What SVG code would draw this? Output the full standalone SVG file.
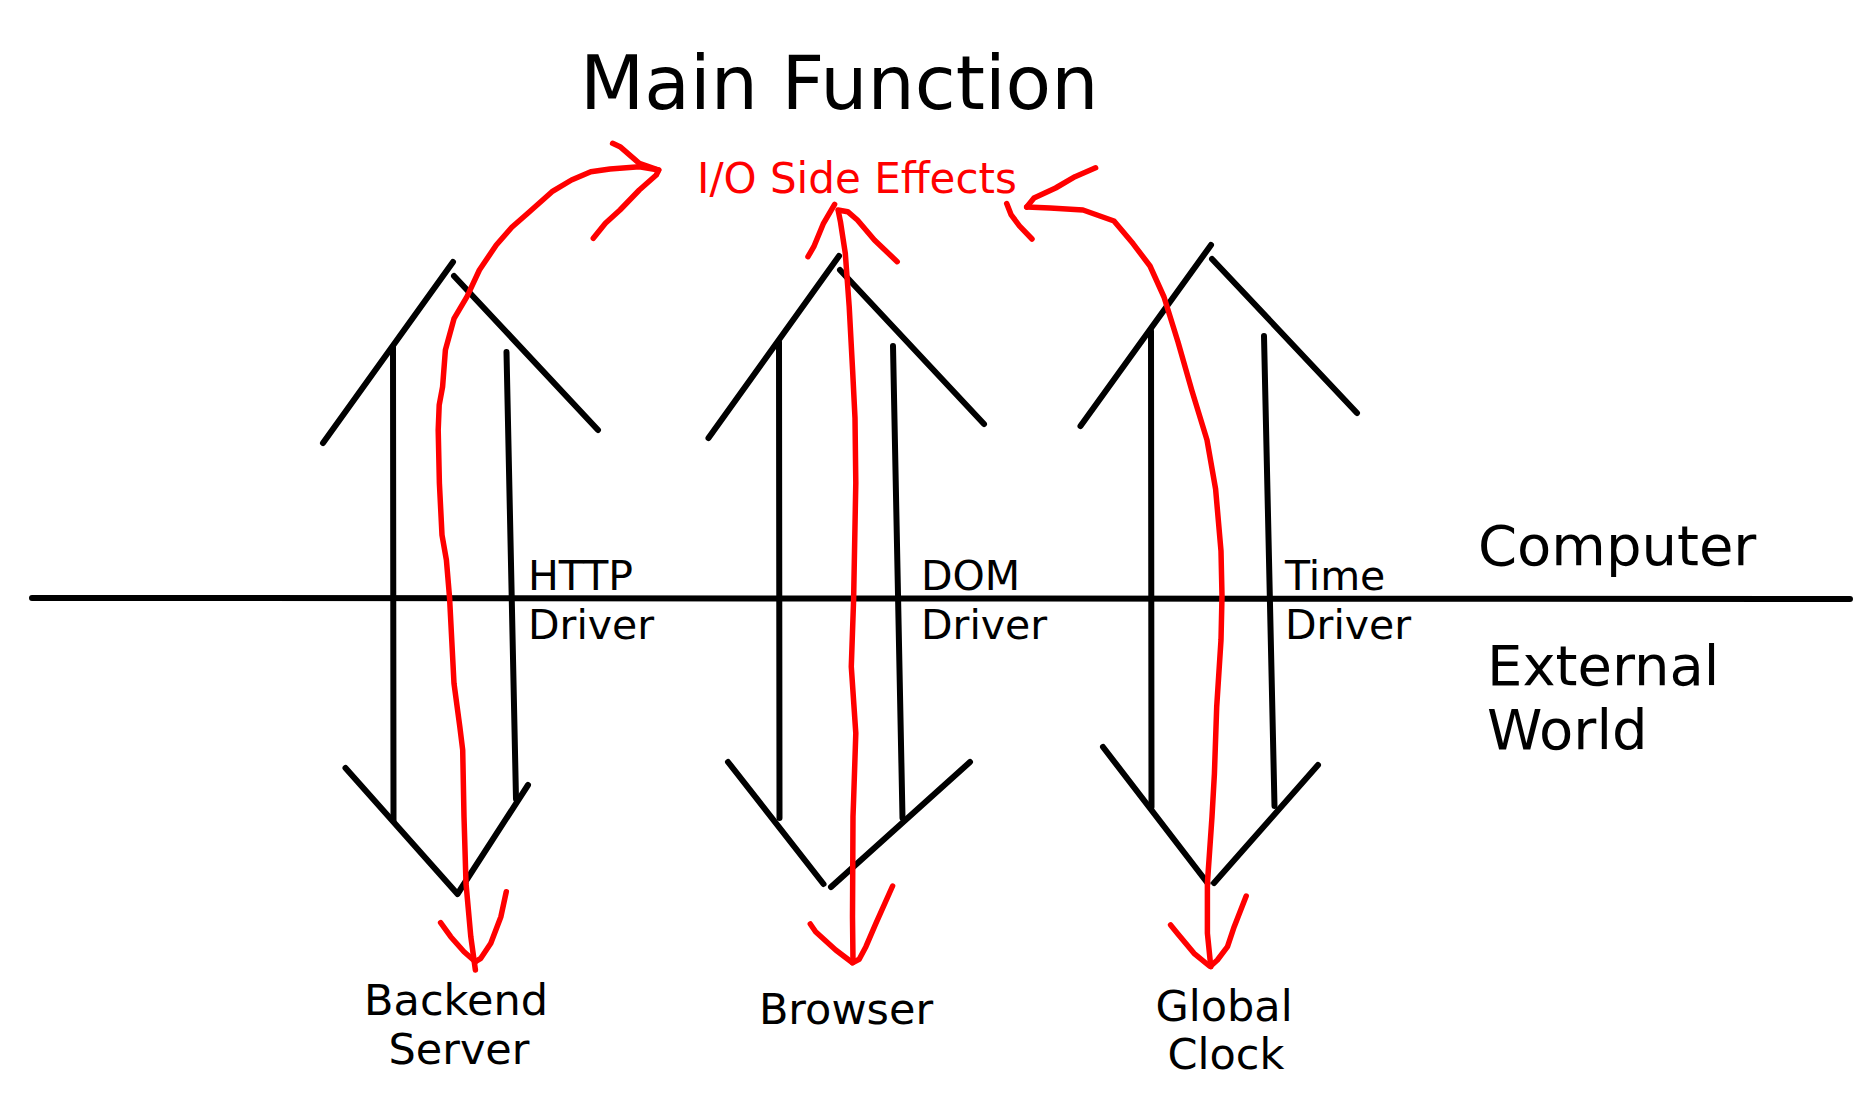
<svg xmlns="http://www.w3.org/2000/svg" width="1870" height="1111" viewBox="0 0 1870 1111">
<style>
  .bk { fill: none; stroke: #000; stroke-width: 6; stroke-linecap: round; stroke-linejoin: round; }
  .rd { fill: none; stroke: #ff0000; stroke-width: 5.5; stroke-linecap: round; stroke-linejoin: round; }
  text { font-family: "DejaVu Sans", "Liberation Sans", sans-serif; fill: #000; }
  .lbl { font-size: 41px; }
  .ext { font-size: 43px; }
  .side { font-size: 56px; }
</style>
<rect width="1870" height="1111" fill="#fff"/>

<g id="main-function">
  <text x="580" y="109" font-size="74.5">Main Function</text>
</g>

<g id="io-side-effects">
  <text x="697" y="193" font-size="42" style="fill:#ff0000">I/O Side Effects</text>
</g>

<g id="boundary">
  <line class="bk" x1="32" y1="598" x2="1850" y2="599"/>
  <text class="side" x="1478" y="565">Computer</text>
  <text class="side" x="1487" y="685">External</text>
  <text class="side" x="1487" y="749">World</text>
</g>

<g id="http-driver">
  <polyline class="bk" points="323,443 453,262"/>
  <polyline class="bk" points="454,276 598,430"/>
  <polyline class="bk" points="393,347 393.5,821"/>
  <polyline class="bk" points="506.5,352 516,799"/>
  <polyline class="bk" points="345.5,768 457.5,894 528,785"/>
  <text class="lbl" x="528" y="590">HTTP</text>
  <text class="lbl" x="528" y="639">Driver</text>
</g>

<g id="dom-driver">
  <polyline class="bk" points="708.5,438 839,256"/>
  <polyline class="bk" points="840,270 984,424"/>
  <polyline class="bk" points="779,342 779.5,818"/>
  <polyline class="bk" points="893,346 902.5,818"/>
  <polyline class="bk" points="728,762 823.5,884"/>
  <polyline class="bk" points="970,762 831,887"/>
  <text class="lbl" x="921" y="590">DOM</text>
  <text class="lbl" x="921" y="639">Driver</text>
</g>

<g id="time-driver">
  <polyline class="bk" points="1080.5,426 1211,245"/>
  <polyline class="bk" points="1212,259 1357,413"/>
  <polyline class="bk" points="1151,331 1151.5,807"/>
  <polyline class="bk" points="1264,336 1274.5,806"/>
  <polyline class="bk" points="1103,747 1207.5,883"/>
  <polyline class="bk" points="1318,765 1214,883"/>
  <text class="lbl" x="1285" y="590">Time</text>
  <text class="lbl" x="1285" y="639">Driver</text>
</g>

<g id="backend-server">
  <text class="ext" x="456" y="1015" text-anchor="middle">Backend</text>
  <text class="ext" x="459" y="1064" text-anchor="middle">Server</text>
</g>

<g id="browser">
  <text class="ext" x="846" y="1024" font-size="42.5" text-anchor="middle">Browser</text>
</g>

<g id="global-clock">
  <text class="ext" x="1224" y="1021" text-anchor="middle">Global</text>
  <text class="ext" x="1226" y="1069" text-anchor="middle">Clock</text>
</g>

<g id="connectors">
  <!-- HTTP side effect loop -->
  <polyline class="rd" points="475.4,970 470.8,936.7 466,883.3 464,816.7 462.7,750 459.8,726.7 454,683.3 449.6,598.3 446.4,560 442,535 439.4,483.3 438.2,430 439.2,405 442.6,386.7 445.4,350 454,318.7 467,296.7 479.4,270 496.3,245 511.8,227.3 527.8,213.3 552,191.7 571.5,180 590.8,171.7 610,169 639.3,166.7 658.7,170"/>
  <polyline class="rd" points="612.6,143.3 620,146.7 639.3,163.3 658.7,170 656.3,175 639.3,190 620,210 605.4,223.3 593.3,238.3"/>
  <polyline class="rd" points="440.6,922.7 450.7,936.7 464,951.7 475.4,961.7"/>
  <polyline class="rd" points="506.3,891.7 500.9,916.7 490.8,943.3 480.8,958.3 475.4,961.7"/>

  <!-- DOM side effect loop -->
  <polyline class="rd" points="853,962 852.5,916.7 853,816.7 853.6,800 855.8,733.3 851.3,666.7 853.6,600 855.8,483 855,418 852.6,370 849.2,306.7 845.3,253.3 840.5,222 838.5,212"/>
  <polyline class="rd" points="808,256.7 813.8,246.7 823.5,223.3 834.6,204.3"/>
  <polyline class="rd" points="838,210 847.7,211.7 857.4,220 874.4,240 897.2,261.7"/>
  <polyline class="rd" points="810.3,924 815.6,931.7 835.7,950 852.5,962.7"/>
  <polyline class="rd" points="892.6,886 875.9,923.3 865.9,946.7 859.2,959.3 852.5,962.7"/>

  <!-- Time side effect loop -->
  <polyline class="rd" points="1210.8,966.7 1207.4,933.3 1207.4,883.3 1212,816.7 1214.4,774 1216.7,707 1221,640 1222,596 1221,551 1215.6,489 1207,440 1192,391 1178,342 1164,297 1150,266 1133,243.6 1114,221 1083,210 1050,208 1026.7,207"/>
  <polyline class="rd" points="1095.6,167.8 1075,176.7 1055.6,188 1034,198 1026.7,207"/>
  <polyline class="rd" points="1006.7,203.5 1011,214.6 1019.4,225.8 1032,239"/>
  <polyline class="rd" points="1170.6,925 1177.3,933.3 1194,953.3 1209.4,966"/>
  <polyline class="rd" points="1246.2,896 1234.2,926.7 1227.5,946.7 1217.4,960 1210.8,966"/>
</g>
</svg>
